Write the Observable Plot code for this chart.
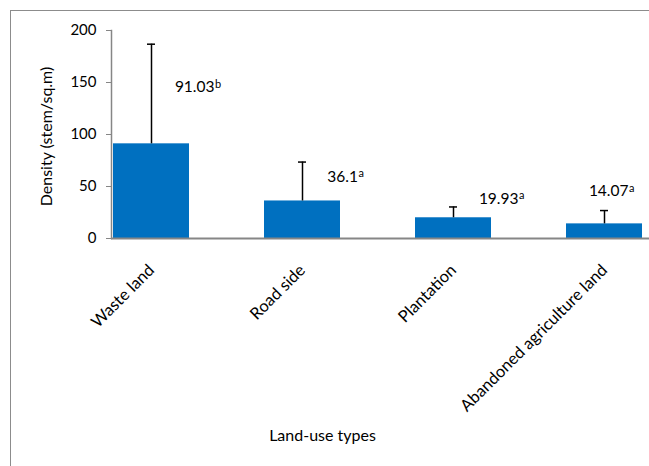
<!DOCTYPE html>
<html><head><meta charset="utf-8">
<script src="https://cdn.jsdelivr.net/npm/d3@7"></script>
<script src="https://cdn.jsdelivr.net/npm/@observablehq/plot@0.6"></script>
<style>
html,body{margin:0;padding:0;background:#fff;overflow:hidden}
#wrap{position:relative;width:649px;height:466px;overflow:hidden;font-family:Lato,"Noto Sans",sans-serif}
#border{position:absolute;left:10px;top:10px;width:700px;height:500px;border:1px solid #8c8c8c;pointer-events:none}
svg{display:block}
</style></head><body><div id="wrap"><div id="border"></div></div>
<script>
const categories = ["Waste land", "Road side", "Plantation", "Abandoned agriculture land"];
const means = [91.03, 36.1, 19.93, 14.07];
const errors = [95.8, 37.4, 10.4, 12.8];
const letters = ["b", "a", "a", "a"];
const yTicks = [0, 50, 100, 150, 200];
const xTitle = "Land-use types";
const yTitle = "Density (stem/sq.m)";

const data = categories.map((c, i) => ({
  cat: c, mean: means[i], upper: means[i] + errors[i], letter: letters[i], label: String(means[i])
}));

// label placement (pixel offsets from bar centre / bar top), style only
const labelLayout = [
  {dx: 63, dy: -56.5},
  {dx: 55.5, dy: -24},
  {dx: 65, dy: -19},
  {dx: 24, dy: -32.6}
];

const gray = "#868686";
const font = "Lato, 'Noto Sans', sans-serif";

const labelMarks = data.flatMap((d, i) => [
  Plot.text([d], {x: "cat", y: "mean", text: "label", textAnchor: "end", lineAnchor: "middle",
    dx: labelLayout[i].dx, dy: labelLayout[i].dy, fontSize: 15.5, fill: "#000"}),
  Plot.text([d], {x: "cat", y: "mean", text: "letter", textAnchor: "start", lineAnchor: "bottom",
    dx: labelLayout[i].dx + 0.5, dy: labelLayout[i].dy + 0.5, fontSize: 11, fill: "#000"})
]);

const chart = Plot.plot({
  width: 649,
  height: 466,
  marginLeft: 111,
  marginRight: 0,
  marginTop: 30,
  marginBottom: 228,
  style: {fontFamily: font, background: "transparent", overflow: "visible"},
  x: {domain: categories, range: [112, 642], paddingInner: 0.5, paddingOuter: 0, axis: null},
  y: {domain: [0, 200], axis: null},
  marks: [
    Plot.barY(data, {x: "cat", y: "mean", fill: "#0070C0"}),
    Plot.ruleX(data, {x: "cat", y1: "mean", y2: "upper", stroke: "#000", strokeWidth: 1.5}),
    Plot.tickY(data, {x: "cat", y: "upper", stroke: "#000", strokeWidth: 1.5, insetLeft: 34, insetRight: 34}),
    Plot.ruleY([0], {stroke: gray, strokeWidth: 2}),
    Plot.frame({anchor: "left", stroke: gray, strokeWidth: 1.5}),
    Plot.axisY(yTicks, {tickSize: 5, tickPadding: 10, stroke: gray, fill: "#000", fontSize: 15, label: null}),
    Plot.axisX({tickSize: 0, tickRotate: -45, tickPadding: 29, fontSize: 16.5, fill: "#000", label: null}),
    Plot.text([xTitle], {frameAnchor: "bottom", dx: -58, dy: 202, fontSize: 16, fill: "#000"}),
    Plot.text([yTitle], {frameAnchor: "left", rotate: -90, textAnchor: "middle", dx: -65, dy: 2, fontSize: 16, fill: "#000"}),
    ...labelMarks
  ]
});
document.getElementById("wrap").prepend(chart);
</script>
</body></html>
